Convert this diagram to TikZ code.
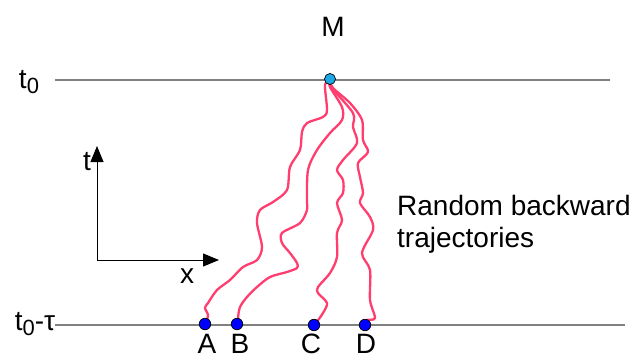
\documentclass[tikz,border=0pt]{standalone}
\usepackage{fontspec}
\setmainfont{Liberation Sans}
\usetikzlibrary{arrows.meta}
\definecolor{traj}{HTML}{FF3D6E}
\definecolor{mdot}{HTML}{1EA8E6}
\definecolor{gline}{HTML}{808080}
\begin{document}
\begin{tikzpicture}[x=1pt,y=-1pt,
  lvl/.style={draw=gline,line width=1.5pt},
  path/.style={draw=traj,line width=2.3pt,line cap=round,line join=round},
  dotb/.style={circle,fill=blue,draw=black,line width=0.7pt,inner sep=0pt,minimum size=11.5pt},
  dotm/.style={circle,fill=mdot,draw=black,line width=0.7pt,inner sep=0pt,minimum size=11pt},
  lab/.style={font=\fontsize{28}{32}\selectfont,inner sep=0pt},
  axis/.style={draw=black,line width=1pt}]
\useasboundingbox (0,0) rectangle (630,357);
% levels
\coordinate (t0l) at (55,80);
\coordinate (t0r) at (610,80);
\coordinate (tbl) at (55,325);
\coordinate (tbr) at (625,325);
\draw[lvl] (t0l) -- (t0r);
\draw[lvl] (tbl) -- (tbr);
\node[lab] (lt0) at (29,82) {t\raisebox{-0.35ex}{\fontsize{22}{24}\selectfont 0}};
\node[lab] (ltb) at (35,324) {t\raisebox{-0.35ex}{\fontsize{22}{24}\selectfont 0}-τ};
% trajectories
\draw[path] plot[smooth,tension=0.5] coordinates {(330,80) (325,85) (327,110) (323,117) (307,123) (302,132) (300,150) (290,167) (287,190) (273,202) (260,210) (257,223) (262,247) (257,260) (243,267) (230,280) (217,290) (208,303) (205,308) (208,315) (206,323)};
\draw[path] plot[smooth,tension=0.5] coordinates {(330,80) (330,87) (342,107) (342,120) (330,133) (317,150) (308,170) (307,200) (307,210) (300,223) (282,233) (282,243) (290,253) (297,263) (297,268) (287,272) (270,277) (257,287) (247,297) (240,307) (238,318) (238,323)};
\draw[path] plot[smooth,tension=0.5] coordinates {(330,80) (332,88) (353,113) (353,127) (357,143) (343,160) (337,170) (343,180) (343,193) (337,203) (342,220) (337,233) (337,257) (330,273) (318,287) (318,293) (327,303) (323,313) (316,323)};
\draw[path] plot[smooth,tension=0.5] coordinates {(330,80) (333,88) (350,103) (362,120) (363,140) (368,152) (358,163) (360,177) (363,193) (360,203) (370,217) (373,230) (362,253) (370,270) (370,300) (375,318) (367,320) (365,324)};
% dots
\node[dotm] (M) at (330,79) {};
\node[dotb] (A) at (205,324) {};
\node[dotb] (B) at (237,324) {};
\node[dotb] (C) at (314,325) {};
\node[dotb] (D) at (365,325) {};
\node[lab] (lM) at (333,27) {M};
\node[lab] (lA) at (207,344) {A};
\node[lab] (lB) at (240,344) {B};
\node[lab] (lC) at (311,344) {C};
\node[lab] (lD) at (366,344) {D};
% axes
\coordinate (O) at (97,260);
\coordinate (Ot) at (97,146);
\coordinate (Ox) at (219,260);
\draw[axis,-{Triangle[length=16pt,width=13pt]}] (O) -- (Ot);
\draw[axis,-{Triangle[length=16pt,width=13pt]}] (O) -- (Ox);
\node[lab] (lt) at (87,162) {t};
\node[lab] (lx) at (187,276) {x};
\node[lab,align=left,anchor=west] (txt) at (397,224) {Random backward\\trajectories};
\end{tikzpicture}
\end{document}
